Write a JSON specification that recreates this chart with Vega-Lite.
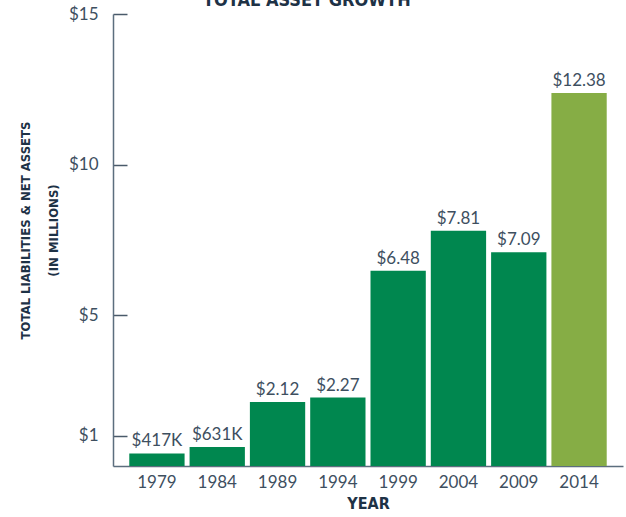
{
  "$schema": "https://vega.github.io/schema/vega-lite/v6.json",
  "width": 510,
  "height": 452,
  "autosize": {"type": "none"},
  "padding": {"left": 113, "top": 14, "right": 3, "bottom": 51},
  "background": "white",
  "data": {
    "values": [
      {"year": "1979", "value": 0.417, "label": "$417K"},
      {"year": "1984", "value": 0.631, "label": "$631K"},
      {"year": "1989", "value": 2.12, "label": "$2.12"},
      {"year": "1994", "value": 2.27, "label": "$2.27"},
      {"year": "1999", "value": 6.48, "label": "$6.48"},
      {"year": "2004", "value": 7.81, "label": "$7.81"},
      {"year": "2009", "value": 7.09, "label": "$7.09"},
      {"year": "2014", "value": 12.38, "label": "$12.38"}
    ]
  },
  "encoding": {
    "x": {
      "field": "year",
      "type": "ordinal",
      "scale": {"paddingInner": 0.083, "paddingOuter": 0.27},
      "axis": {
        "title": "YEAR",
        "titleFont": "Liberation Sans Narrow, DejaVu Sans Condensed, sans-serif",
        "titleFontWeight": "bold",
        "titleFontSize": 16,
        "titleColor": "#1e3246",
        "titlePadding": 5,
        "labelAngle": 0,
        "labelFont": "Lato",
        "labelFontSize": 17,
        "labelColor": "#3e4f5f",
        "labelPadding": 8,
        "ticks": false,
        "domainColor": "#5c6e7e",
        "domainWidth": 1.5,
        "grid": false
      }
    },
    "y": {
      "field": "value",
      "type": "quantitative",
      "scale": {"domain": [0, 15], "nice": false},
      "axis": {
        "values": [1, 5, 10, 15],
        "format": "$d",
        "title": ["TOTAL LIABILITIES & NET ASSETS", "(IN MILLIONS)"],
        "titleFont": "Liberation Sans Narrow, DejaVu Sans Condensed, sans-serif",
        "titleFontWeight": "bold",
        "titleFontSize": 13,
        "titleColor": "#1e3246",
        "titleLineHeight": 28,
        "titleX": -81,
        "titleY": 216,
        "titleAngle": -90,
        "titleAlign": "center",
        "titleBaseline": "bottom",
        "labelFont": "Lato",
        "labelFontSize": 17,
        "labelColor": "#3e4f5f",
        "labelPadding": 29,
        "tickSize": -14,
        "tickColor": "#4a5a6a",
        "tickWidth": 1.5,
        "domainColor": "#5c6e7e",
        "domainWidth": 1.5,
        "grid": false
      }
    }
  },
  "layer": [
    {
      "mark": {"type": "bar"},
      "encoding": {
        "color": {
          "condition": {"test": "datum.year === '2014'", "value": "#86ad45"},
          "value": "#00874f"
        }
      }
    },
    {
      "mark": {
        "type": "text",
        "baseline": "alphabetic",
        "dy": -7,
        "font": "Lato",
        "fontSize": 17,
        "color": "#3e4f5f"
      },
      "encoding": {"text": {"field": "label"}}
    },
    {
      "transform": [{"filter": "datum.year === '1994'"}],
      "mark": {
        "type": "text",
        "baseline": "alphabetic",
        "align": "center",
        "dx": -31,
        "dy": -8,
        "font": "Liberation Sans Narrow, DejaVu Sans Condensed, sans-serif",
        "fontWeight": "bold",
        "fontSize": 18,
        "color": "#1e3246"
      },
      "encoding": {
        "y": {"datum": 15},
        "text": {"value": "TOTAL ASSET GROWTH"}
      }
    }
  ],
  "config": {"view": {"stroke": null}}
}
